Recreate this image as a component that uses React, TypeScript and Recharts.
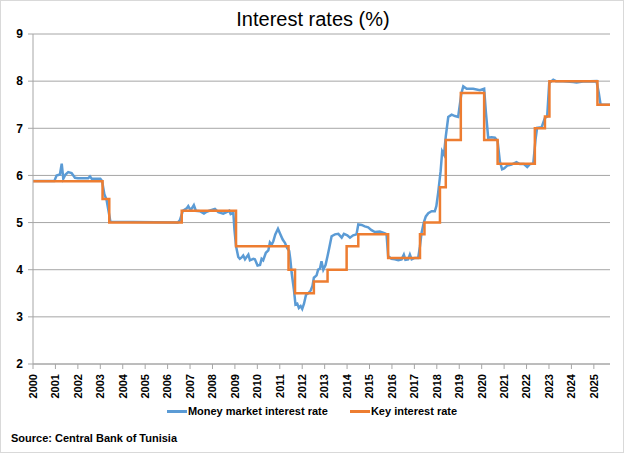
import { CartesianGrid, Legend, Line, LineChart, XAxis, YAxis } from 'recharts';

const years = [
  2000, 2001, 2002, 2003, 2004, 2005, 2006, 2007, 2008, 2009, 2010, 2011, 2012,
  2013, 2014, 2015, 2016, 2017, 2018, 2019, 2020, 2021, 2022, 2023, 2024, 2025,
];
const yTicks = [2, 3, 4, 5, 6, 7, 8, 9];
const seriesOrder = ['Money market interest rate', 'Key interest rate'];

// key rate: change dates (decimal years) and the rate from that date on
const keyRateDates = [
  2000, 2003.1, 2003.4, 2006.63, 2009.05, 2011.39, 2011.68, 2012.52, 2013.13, 2013.98,
  2014.5, 2015.83, 2017.25, 2017.45, 2018.14, 2018.4, 2019.07, 2020.11, 2020.71,
  2022.37, 2022.82, 2023.02, 2025.16, 2025.72,
];
const keyRates = [
  5.875, 5.5, 5.0, 5.25, 4.5, 4.0, 3.5, 3.75, 4.0, 4.5,
  4.75, 4.25, 4.75, 5.0, 5.75, 6.75, 7.75, 6.75, 6.25,
  7.0, 7.25, 8.0, 7.5, 7.5,
];

const moneyMarketDates = [
  2000, 2000.95, 2001.05, 2001.2, 2001.28, 2001.35, 2001.45, 2001.57, 2001.72, 2001.87,
  2002.0, 2002.46, 2002.54, 2002.62, 2003.0, 2003.08, 2003.18, 2003.28, 2003.45, 2006.45,
  2006.55, 2006.68, 2006.85, 2006.92, 2007.0, 2007.08, 2007.17, 2007.26, 2007.44, 2007.62,
  2007.74, 2007.86, 2008.11, 2008.26, 2008.48, 2008.63, 2008.75, 2008.81, 2008.93, 2008.98,
  2009.05, 2009.15, 2009.22, 2009.3, 2009.37, 2009.45, 2009.6, 2009.67, 2009.82, 2009.89,
  2010.01, 2010.12, 2010.19, 2010.26, 2010.38, 2010.49, 2010.56, 2010.64, 2010.71, 2010.8,
  2010.92, 2011.01, 2011.13, 2011.23, 2011.33, 2011.42, 2011.47, 2011.53, 2011.63, 2011.7,
  2011.78, 2011.85, 2011.93, 2012.0, 2012.08, 2012.17, 2012.27, 2012.38, 2012.46, 2012.52,
  2012.64, 2012.71, 2012.79, 2012.86, 2012.94, 2013.04, 2013.13, 2013.2, 2013.31, 2013.46,
  2013.61, 2013.76, 2013.86, 2014.01, 2014.13, 2014.27, 2014.42, 2014.5, 2014.65, 2014.79,
  2014.94, 2015.09, 2015.24, 2015.46, 2015.69, 2015.76, 2015.83, 2015.98, 2016.13, 2016.28,
  2016.43, 2016.53, 2016.6, 2016.72, 2016.8, 2016.88, 2017.02, 2017.17, 2017.25, 2017.32,
  2017.42, 2017.51, 2017.62, 2017.77, 2017.91, 2017.98, 2018.06, 2018.17, 2018.24, 2018.32,
  2018.4, 2018.51, 2018.66, 2018.81, 2018.95, 2019.1, 2019.18, 2019.33, 2019.62, 2019.92,
  2020.11, 2020.19, 2020.29, 2020.44, 2020.59, 2020.71, 2020.81, 2020.91, 2021.0, 2021.14,
  2021.33, 2021.55, 2021.7, 2021.88, 2022.03, 2022.15, 2022.3, 2022.4, 2022.47, 2022.67,
  2022.82, 2022.92, 2023.01, 2023.19, 2023.31, 2023.63, 2024.08, 2024.23, 2024.52, 2025.12,
  2025.22, 2025.3, 2025.72,
];
const moneyMarketRates = [
  5.88, 5.88, 6.0, 6.02, 6.25, 5.93, 6.02, 6.07, 6.05, 5.95,
  5.94, 5.94, 5.98, 5.93, 5.93, 5.88, 5.6, 5.48, 5.02, 5.0,
  5.05, 5.25, 5.3, 5.35, 5.28, 5.3, 5.37, 5.25, 5.24, 5.19,
  5.23, 5.25, 5.29, 5.22, 5.19, 5.22, 5.25, 5.18, 5.21, 4.85,
  4.5, 4.27, 4.23, 4.26, 4.3, 4.22, 4.32, 4.2, 4.23, 4.22,
  4.09, 4.1, 4.23, 4.2, 4.36, 4.41, 4.58, 4.53, 4.6, 4.75,
  4.87, 4.77, 4.64, 4.57, 4.46, 4.4, 4.22, 3.93, 3.58, 3.26,
  3.28, 3.19, 3.23, 3.17, 3.28, 3.47, 3.5, 3.56, 3.66, 3.83,
  3.88, 4.0, 4.02, 4.18, 4.0, 4.1, 4.29, 4.45, 4.71, 4.75,
  4.76, 4.68, 4.76, 4.73, 4.68, 4.73, 4.75, 4.96, 4.95, 4.92,
  4.9, 4.84, 4.8, 4.81, 4.77, 4.75, 4.29, 4.23, 4.22, 4.2,
  4.22, 4.32, 4.21, 4.22, 4.32, 4.22, 4.25, 4.25, 4.5, 4.78,
  5.0, 5.13, 5.2, 5.24, 5.24, 5.35, 5.63, 6.09, 6.51, 6.44,
  6.83, 7.24, 7.29, 7.26, 7.24, 7.75, 7.89, 7.84, 7.84, 7.81,
  7.84, 7.33, 6.8, 6.81, 6.8, 6.73, 6.3, 6.13, 6.15, 6.21,
  6.23, 6.28, 6.24, 6.24, 6.18, 6.24, 6.25, 6.76, 7.01, 7.02,
  7.22, 7.25, 7.96, 8.03, 8.0, 8.0, 7.98, 7.97, 7.99, 8.0,
  7.75, 7.5, 7.5,
];

const keyData = keyRateDates.map((t, i) => ({ t, v: keyRates[i] }));
const mmData = moneyMarketDates.map((t, i) => ({ t, v: moneyMarketRates[i] }));

const FONT = "'Liberation Sans', Arial, sans-serif";
const GRID = '#a6a6a6';
const BLUE = '#5b9bd5';
const ORANGE = '#ed7d31';

function YearTick(props: any) {
  const { x, y, payload } = props;
  const ty = y + 3;
  return (
    <text
      x={x}
      y={ty}
      dy="0.35em"
      transform={`rotate(-90, ${x}, ${ty})`}
      textAnchor="end"
      fontSize={11}
      fontWeight="bold"
      fontFamily={FONT}
      fill="#000"
    >
      {payload.value}
    </text>
  );
}

function LegendContent(props: any) {
  const items = [...(props.payload || [])].sort(
    (a: any, b: any) => seriesOrder.indexOf(a.value) - seriesOrder.indexOf(b.value),
  );
  return (
    <div style={{ display: 'flex', justifyContent: 'center', gap: 22, fontFamily: FONT }}>
      {items.map((entry: any) => (
        <div key={entry.value} style={{ display: 'flex', alignItems: 'center' }}>
          <span style={{ width: 20, height: 3, background: entry.color, marginRight: 1 }} />
          <span style={{ fontSize: 11, fontWeight: 'bold', color: '#000' }}>{entry.value}</span>
        </div>
      ))}
    </div>
  );
}

export default function App() {
  return (
    <div
      style={{
        position: 'absolute',
        left: 0,
        top: 0,
        width: 624,
        height: 453,
        boxSizing: 'border-box',
        border: '1px solid #d9d9d9',
        background: '#fff',
        fontFamily: FONT,
      }}
    >
      <div
        style={{
          position: 'absolute',
          top: 7,
          left: 0,
          width: 624,
          textAlign: 'center',
          fontSize: 20,
          color: '#000',
        }}
      >
        Interest rates (%)
      </div>
      <div style={{ position: 'absolute', left: -1, top: -1 }}>
        <LineChart width={624} height={453} margin={{ top: 34, right: 14, left: 0, bottom: 49 }}>
          <CartesianGrid vertical={false} stroke={GRID} strokeWidth={1} />
          <XAxis
            type="number"
            dataKey="t"
            domain={[2000, 2025.72]}
            ticks={years}
            allowDataOverflow
            interval={0}
            height={40}
            stroke={GRID}
            tickSize={5}
            tick={<YearTick />}
          />
          <YAxis
            domain={[2, 9]}
            ticks={yTicks}
            width={33}
            stroke={GRID}
            tickSize={5}
            tickMargin={5}
            tick={{ fontSize: 12, fontWeight: 'bold', fill: '#000', fontFamily: FONT }}
          />
          <Legend
            layout="horizontal"
            verticalAlign="middle"
            align="center"
            wrapperStyle={{ top: 405, left: 0, width: 624, height: 18 }}
            content={<LegendContent />}
          />
          <Line
            data={mmData}
            dataKey="v"
            name="Money market interest rate"
            type="linear"
            stroke={BLUE}
            strokeWidth={2.5}
            dot={false}
            isAnimationActive={false}
          />
          <Line
            data={keyData}
            dataKey="v"
            name="Key interest rate"
            type="stepAfter"
            stroke={ORANGE}
            strokeWidth={2.5}
            dot={false}
            isAnimationActive={false}
          />
        </LineChart>
      </div>
      <div
        style={{
          position: 'absolute',
          left: 10,
          top: 431,
          fontSize: 11,
          fontWeight: 'bold',
          color: '#000',
        }}
      >
        Source: Central Bank of Tunisia
      </div>
    </div>
  );
}
